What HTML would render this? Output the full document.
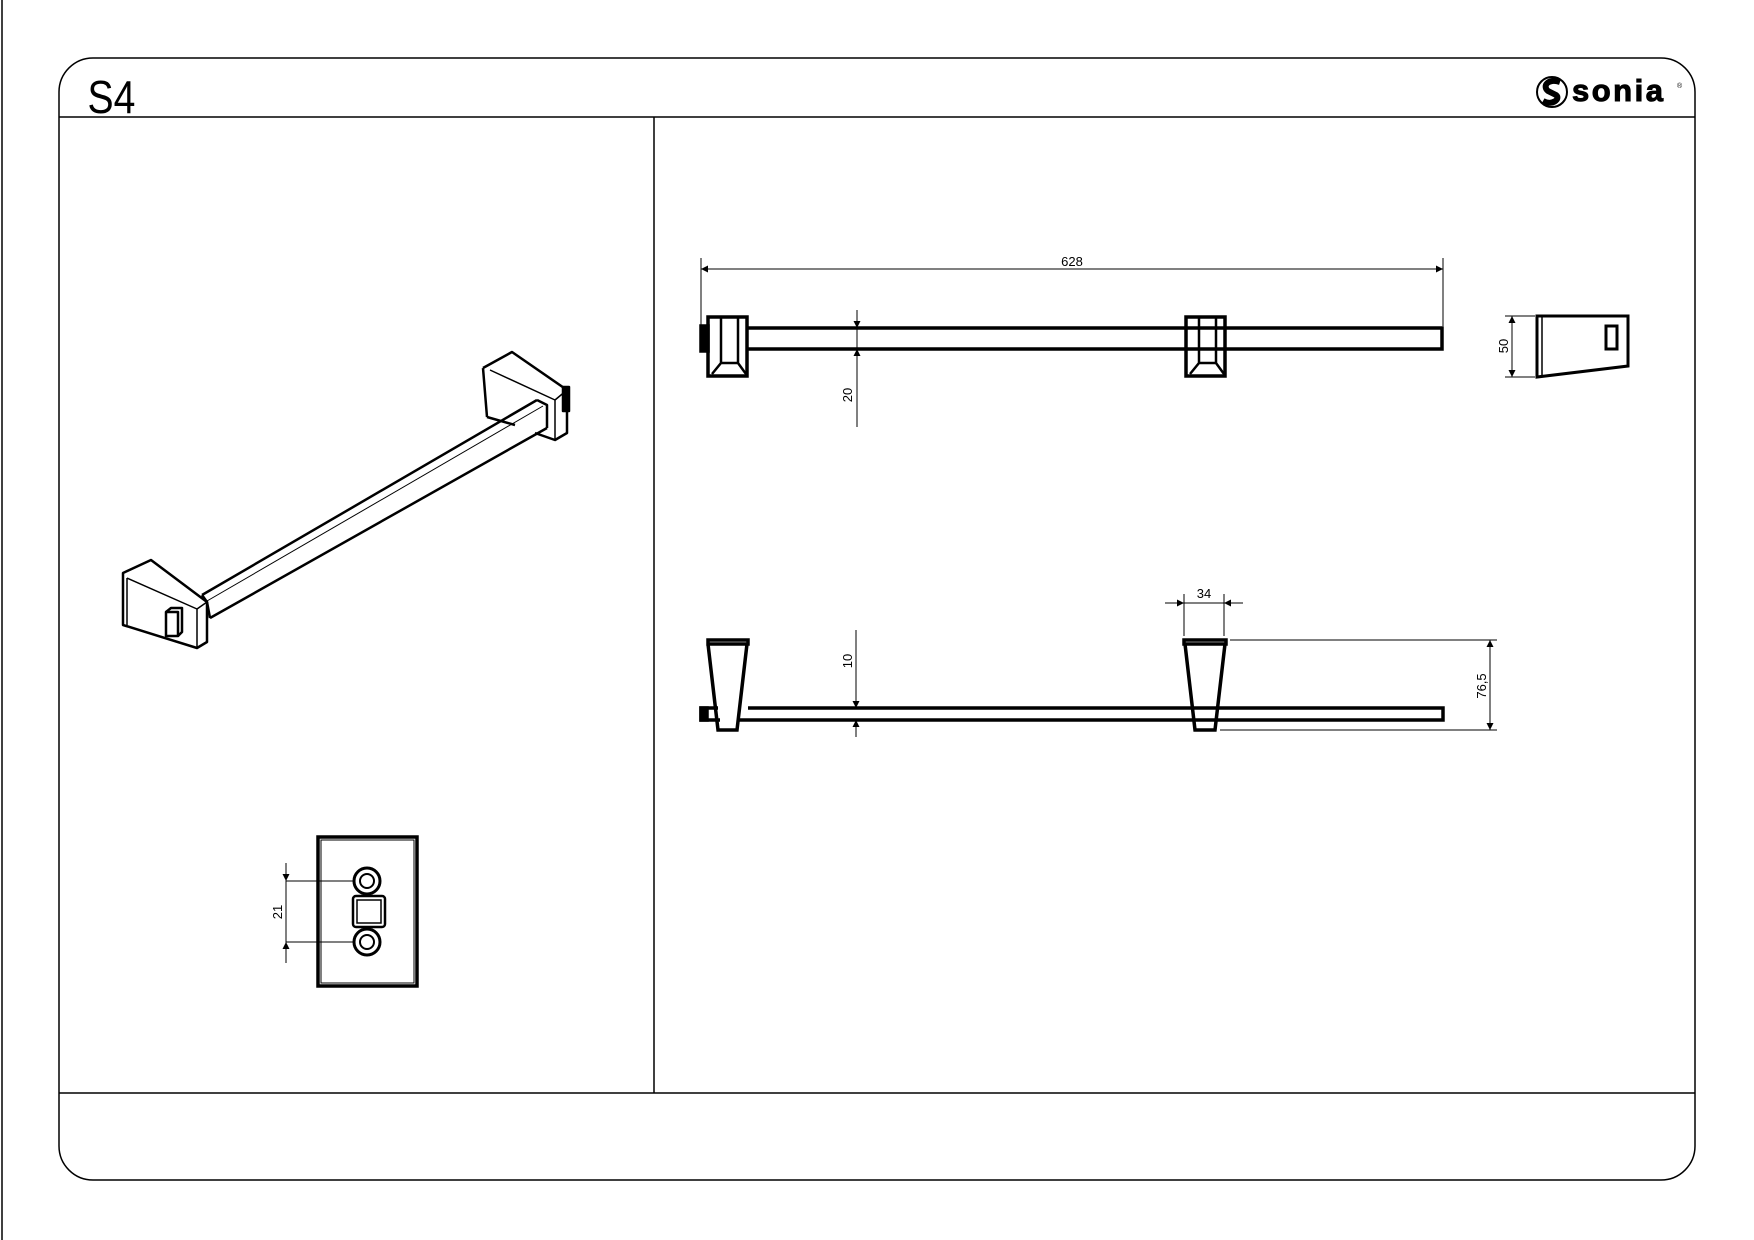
<!DOCTYPE html>
<html><head><meta charset="utf-8"><style>
html,body{margin:0;padding:0;background:#fff;width:1754px;height:1240px;overflow:hidden}
svg text{font-family:"Liberation Sans",sans-serif}
</style></head><body>
<svg width="1754" height="1240" viewBox="0 0 1754 1240" xmlns="http://www.w3.org/2000/svg">
<defs>
<marker id="a" viewBox="0 0 10 10" refX="10" refY="5" markerWidth="10" markerHeight="7" orient="auto-start-reverse" markerUnits="userSpaceOnUse"><path d="M0,0 L10,5 L0,10 z" fill="#000"/></marker>
</defs>
<rect width="1754" height="1240" fill="#fff"/>
<line x1="2" y1="0" x2="2" y2="1240" stroke="#000" stroke-width="1.5"/>
<rect x="59" y="58" width="1636" height="1122" rx="34" fill="none" stroke="#000" stroke-width="1.5"/>
<line x1="59" y1="117" x2="1695" y2="117" stroke="#000" stroke-width="1.5"/>
<line x1="59" y1="1093" x2="1695" y2="1093" stroke="#000" stroke-width="1.5"/>
<line x1="654" y1="117" x2="654" y2="1093" stroke="#000" stroke-width="1.5"/>
<text x="88" y="113" font-size="46" transform="scale(0.85,1) translate(15,0)">S4</text>
<!-- logo -->
<circle cx="1552" cy="92" r="15" fill="none" stroke="#000" stroke-width="2"/>
<path d="M1560,82 C1548,78 1542,86 1548,91 L1556,95 C1561,99 1552,106 1543,101" fill="none" stroke="#000" stroke-width="6"/>
<text x="1572" y="101" font-size="31" font-weight="bold" letter-spacing="2.5" stroke="#000" stroke-width="1">sonia</text>
<text x="1677" y="88" font-size="7">®</text>

<g fill="none" stroke="#000">
<!-- isometric -->
<g stroke-width="2.5" stroke-linejoin="round">
<path d="M123,573 L151,560 L207,602 L207,642 L197,648 L123,625 Z"/>
<path d="M127,578 L197,609 L207,602 M197,609 L197,648 M127,578 L127,625" stroke-width="1.5"/>
<rect x="166" y="612" width="12" height="24"/>
<path d="M166,612 L171,608 L182,608 L182,632 L178,636"/>
<path d="M483,368 L512,352 L567,390 L567,433 L555,440 L535,433 M487,417 L483,368 M487,417 L515,425"/>
<path d="M490,370 L555,400 L567,390 M555,400 L555,440" stroke-width="1.5"/>
<rect x="563" y="387" width="6" height="24" fill="#000"/>
<path d="M202,595 L537,400 M210,618 L547,428 M202,595 L207,602 L210,618"/>
<path d="M207,601 L543,406" stroke-width="1"/>
<path d="M537,400 L547,405 L547,428"/>
</g>
<!-- plate -->
<rect x="318" y="837" width="99" height="149" stroke-width="3.5"/>
<rect x="321" y="840" width="93" height="143" stroke-width="1"/>
<circle cx="367" cy="881" r="13" stroke-width="3"/><circle cx="367" cy="881" r="7" stroke-width="2"/>
<circle cx="367" cy="942" r="13" stroke-width="3"/><circle cx="367" cy="942" r="7" stroke-width="2"/>
<rect x="353" y="896" width="32" height="31" rx="3" stroke-width="2.5"/>
<rect x="357" y="900" width="24" height="23" stroke-width="1.5"/>
<g stroke-width="1">
<line x1="286" y1="881" x2="354" y2="881"/><line x1="286" y1="942" x2="354" y2="942"/>
<line x1="286" y1="863" x2="286" y2="881" marker-end="url(#a)"/>
<line x1="286" y1="963" x2="286" y2="942" marker-end="url(#a)"/>
<line x1="286" y1="881" x2="286" y2="942"/>
</g>

<!-- top view -->
<g stroke-width="1">
<line x1="701" y1="258" x2="701" y2="330"/><line x1="1443" y1="258" x2="1443" y2="326"/>
<line x1="701" y1="269" x2="1443" y2="269" marker-start="url(#a)" marker-end="url(#a)"/>
<line x1="857" y1="310" x2="857" y2="328" marker-end="url(#a)"/>
<line x1="857" y1="427" x2="857" y2="349" marker-end="url(#a)"/>
<line x1="857" y1="328" x2="857" y2="349"/>
</g>
<g stroke-width="3.5">
<path d="M748,328 H1442 V349 H748"/>
<rect x="708" y="317" width="39" height="59"/>
<rect x="701" y="326" width="7" height="25" fill="#000"/>
<path d="M721,317 V363 M738,317 V363 M712,374 L721,363 H738 L746,374" stroke-width="2.5"/>
<rect x="1186" y="317" width="39" height="59"/>
<path d="M1199,317 V363 M1216,317 V363 M1190,374 L1199,363 H1216 L1224,374" stroke-width="2.5"/>
</g>
<!-- side element -->
<path d="M1537,316 H1628 V366 L1537,377 Z" stroke-width="3"/>
<line x1="1542" y1="317" x2="1542" y2="376" stroke-width="1.5"/>
<rect x="1606" y="326" width="11" height="23" stroke-width="3"/>
<g stroke-width="1">
<line x1="1505" y1="316" x2="1535" y2="316"/><line x1="1505" y1="377" x2="1535" y2="377"/>
<line x1="1512" y1="346" x2="1512" y2="316" marker-end="url(#a)"/>
<line x1="1512" y1="346" x2="1512" y2="377" marker-end="url(#a)"/>
</g>

<!-- front view -->
<g stroke-width="3.5">
<path d="M748,708 H1443 V720 H738"/>
<path d="M718,708 H701 V720 H720"/>
<rect x="701" y="708" width="6" height="12" fill="#000"/>
<path d="M708,640 H748 V644 H708 Z M708,644 L718,730 H737 L747,644"/>
<path d="M1184,640 H1226 V644 H1184 Z M1185,644 L1195,730 H1215 L1225,644"/>
</g>
<g stroke-width="1">
<line x1="856" y1="630" x2="856" y2="708" marker-end="url(#a)"/>
<line x1="856" y1="737" x2="856" y2="720" marker-end="url(#a)"/>
<line x1="1184" y1="594" x2="1184" y2="636"/><line x1="1224" y1="594" x2="1224" y2="636"/>
<line x1="1165" y1="603" x2="1184" y2="603" marker-end="url(#a)"/>
<line x1="1243" y1="603" x2="1224" y2="603" marker-end="url(#a)"/>
<line x1="1184" y1="603" x2="1224" y2="603"/>
<line x1="1230" y1="640" x2="1497" y2="640"/><line x1="1220" y1="730" x2="1497" y2="730"/>
<line x1="1490" y1="685" x2="1490" y2="640" marker-end="url(#a)"/>
<line x1="1490" y1="685" x2="1490" y2="730" marker-end="url(#a)"/>
</g>
</g>
<g font-size="13" fill="#000">
<text x="1072" y="266" text-anchor="middle">628</text>
<text transform="translate(852,395) rotate(-90)" text-anchor="middle">20</text>
<text transform="translate(1508,346) rotate(-90)" text-anchor="middle">50</text>
<text transform="translate(852,661) rotate(-90)" text-anchor="middle">10</text>
<text x="1204" y="598" text-anchor="middle">34</text>
<text transform="translate(1486,686) rotate(-90)" text-anchor="middle">76,5</text>
<text transform="translate(282,912) rotate(-90)" text-anchor="middle">21</text>
</g>
</svg>
</body></html>
